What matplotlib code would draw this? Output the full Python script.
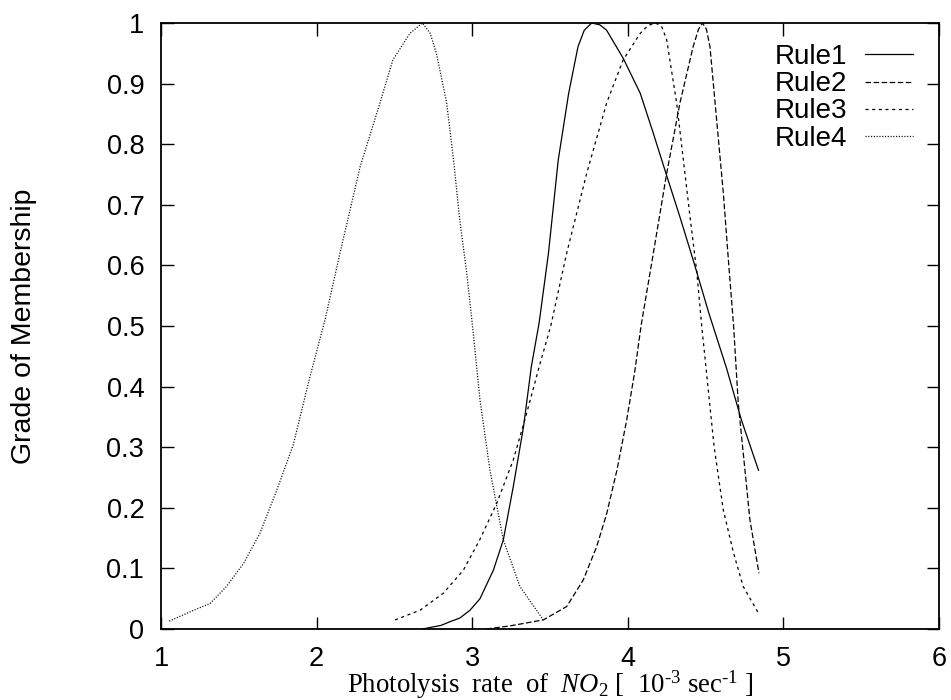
import matplotlib
matplotlib.use("Agg")
import matplotlib.pyplot as plt

# ---- data ----
rule1_x = [2.68, 2.80, 2.857, 2.92, 2.986, 3.05, 3.136, 3.20, 3.264, 3.33, 3.38, 3.43, 3.49,
           3.553, 3.62, 3.68, 3.72, 3.768, 3.82, 3.864, 3.97, 4.08, 4.164, 4.25, 4.335, 4.42,
           4.52, 4.635, 4.73, 4.84]
rule1_y = [0.0, 0.006, 0.012, 0.018, 0.031, 0.050, 0.097, 0.147, 0.235, 0.334, 0.433, 0.505, 0.62,
           0.774, 0.884, 0.961, 0.988, 1.0, 0.997, 0.988, 0.942, 0.884, 0.818, 0.748, 0.68, 0.609,
           0.522, 0.43, 0.345, 0.262]

rule2_x = [3.09, 3.24, 3.457, 3.607, 3.714, 3.80, 3.864, 3.93, 3.993, 4.046, 4.085, 4.164,
           4.25, 4.335, 4.42, 4.455, 4.48, 4.505, 4.528, 4.571, 4.614, 4.653, 4.68, 4.71,
           4.742, 4.785, 4.843]
rule2_y = [0.0, 0.005, 0.015, 0.037, 0.081, 0.136, 0.19, 0.262, 0.345, 0.427, 0.50, 0.62,
           0.752, 0.868, 0.961, 0.99, 1.0, 0.99, 0.961, 0.84, 0.719, 0.587, 0.50, 0.372,
           0.29, 0.18, 0.092]

rule3_x = [2.504, 2.665, 2.814, 2.943, 3.05, 3.157, 3.264, 3.35, 3.436, 3.505, 3.607, 3.736,
           3.864, 3.97, 4.08, 4.13, 4.18, 4.22, 4.25, 4.314, 4.357, 4.40, 4.443, 4.475, 4.515,
           4.555, 4.614, 4.68, 4.742, 4.84]
rule3_y = [0.015, 0.031, 0.059, 0.097, 0.148, 0.207, 0.279, 0.356, 0.438, 0.50, 0.62, 0.752,
           0.868, 0.939, 0.983, 0.996, 1.0, 0.993, 0.972, 0.868, 0.774, 0.68, 0.59, 0.50, 0.40,
           0.30, 0.196, 0.125, 0.07, 0.026]

rule4_x = [1.053, 1.21, 1.315, 1.42, 1.53, 1.636, 1.744, 1.85, 1.957, 2.054, 2.15, 2.28, 2.40,
           2.49, 2.60, 2.68, 2.73, 2.77, 2.836, 2.88, 2.92, 2.965, 3.0, 3.05, 3.114, 3.2,
           3.307, 3.457]
rule4_y = [0.013, 0.031, 0.042, 0.07, 0.108, 0.158, 0.229, 0.304, 0.416, 0.51, 0.62, 0.763, 0.862,
           0.939, 0.983, 1.0, 0.983, 0.95, 0.868, 0.774, 0.675, 0.587, 0.505, 0.378, 0.262, 0.147,
           0.07, 0.015]

labels = ["Rule1", "Rule2", "Rule3", "Rule4"]
x_ticks = [1, 2, 3, 4, 5, 6]
y_ticks = [0, 0.1, 0.2, 0.3, 0.4, 0.5, 0.6, 0.7, 0.8, 0.9, 1]
y_tick_labels = ["0", "0.1", "0.2", "0.3", "0.4", "0.5", "0.6", "0.7", "0.8", "0.9", "1"]

plt.rcParams["font.family"] = ["Liberation Sans", "DejaVu Sans"]
plt.rcParams["lines.scale_dashes"] = False
plt.rcParams["mathtext.fontset"] = "custom"
plt.rcParams["mathtext.rm"] = "Liberation Serif"
plt.rcParams["mathtext.it"] = "Liberation Serif:italic"

fig = plt.figure(figsize=(9.51, 7.0), dpi=100)
ax = fig.add_axes([161 / 951, 71 / 700, 778 / 951, 606 / 700])

lw = 0.9
styles = ["-", (0, (4.0, 1.8)), (0, (2.2, 2.6)), (0, (0.8, 1.2))]
series = [(rule1_x, rule1_y), (rule2_x, rule2_y), (rule3_x, rule3_y), (rule4_x, rule4_y)]
for (xs, ys), ls, lab in zip(series, styles, labels):
    ax.plot(xs, ys, color="black", lw=lw, linestyle=ls, label=lab)

ax.set_xlim(1, 6)
ax.set_ylim(0, 1)
ax.set_xticks(x_ticks)
ax.set_xticklabels([str(v) for v in x_ticks])
ax.set_yticks(y_ticks)
ax.set_yticklabels(y_tick_labels)
ax.tick_params(direction="in", length=9, width=1.0, top=True, right=True,
               labelsize=19.5, pad=12)
for sp in ax.spines.values():
    sp.set_linewidth(1.3)

ax.set_ylabel("Grade of Membership", fontsize=20.5)
ax.yaxis.set_label_coords(-0.160, 0.5)
ax.set_xlabel("Photolysis  rate  of  $\\mathit{NO}_2$ [  10$^{\\mathrm{\u20103}}$ sec$^{\\mathrm{\u20101}}$ ]",
              fontsize=19.3, family="Liberation Serif")
ax.xaxis.set_label_coords(0.5, -0.066)

leg = ax.legend(loc="upper right", bbox_to_anchor=(0.967, 0.965), frameon=False,
                markerfirst=False, fontsize=20, handlelength=1.73, handletextpad=0.65,
                labelspacing=0.04, borderpad=0, borderaxespad=0)

fig.savefig("out.png", dpi=100)
